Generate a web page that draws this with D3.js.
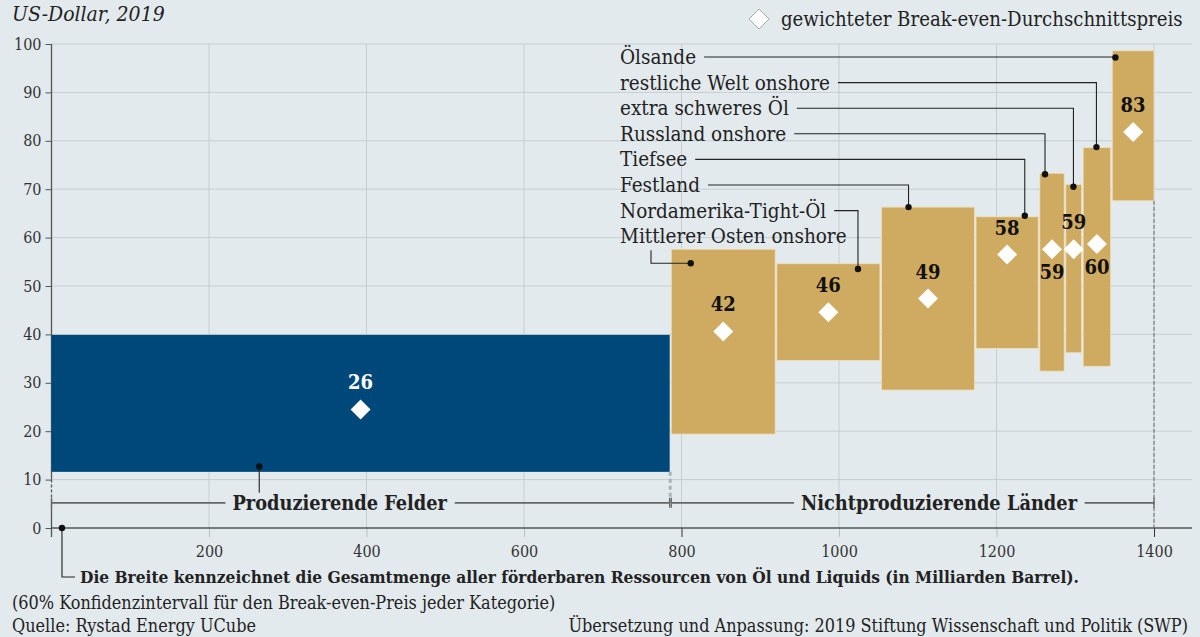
<!DOCTYPE html>
<html lang="de">
<head>
<meta charset="utf-8">
<script src="https://cdn.jsdelivr.net/npm/d3@7"></script>
<style>
  body { margin: 0; background: #e3eaed; }
  svg { display: block; }
  text { font-family: "DejaVu Serif Condensed", "DejaVu Serif", serif; fill: #222; }
  .tick text { font-size: 16px; fill: #333; }
  .num { font-weight: bold; font-size: 20px; text-anchor: middle; }
  .cat { font-size: 20.5px; }
  .foot { font-size: 17.9px; }
</style>
</head>
<body>
<svg id="chart" width="1200" height="637"></svg>
<script>
// categories, left to right along the x axis
var categories = ["Produzierende Felder", "Mittlerer Osten onshore", "Nordamerika-Tight-Öl", "Festland",
  "Tiefsee", "Russland onshore", "extra schweres Öl", "restliche Welt onshore", "Ölsande"];
// resource volume (bn barrel) = bar width
var volumes = [785, 132, 131, 118, 79, 31, 20, 35, 53];
// 60% confidence interval of break-even price (USD)
var lows  = [11.6, 19.4, 34.6, 28.5, 37.1, 32.4, 36.2, 33.4, 67.6];
var highs = [39.9, 57.6, 54.6, 66.3, 64.3, 73.3, 71.0, 78.6, 98.6];
// weighted average break-even (diamond) and its printed label
var avgMarker = [24.5, 40.6, 44.6, 47.4, 56.5, 57.6, 57.6, 58.7, 81.8];
var avgLabels = ["26", "42", "46", "49", "58", "59", "59", "60", "83"];
// where the callout lines point to (data units)
var anchorX = [263.8, 811.7, 1024.1, 1088.3, 1235.9, 1261.6, 1297.7, 1326.9, 1351];
var anchorY = [12.7, 54.7, 53.5, 66.3, 64.5, 73.1, 70.5, 78.7, 97.2];
var labelsBelow = ["Russland onshore", "restliche Welt onshore"];

var groupNames = ["Produzierende Felder", "Nichtproduzierende Länder"];
var groupFrom = [0, 787];
var groupTo = [785, 1400];
var groupLabelX = [366, 1127];

var xTicks = [200, 400, 600, 800, 1000, 1200, 1400];
var yTicks = [0, 10, 20, 30, 40, 50, 60, 70, 80, 90, 100];

var gap = 2;
var starts = [];
var acc = 0;
volumes.forEach(function (v, i) {
  starts.push(acc);
  acc += v + gap;
});

var svg = d3.select('#chart');
var x = d3.scaleLinear().domain([0, 1400]).range([51.5, 1154]);
var y = d3.scaleLinear().domain([0, 100]).range([528, 44]);
var gridRight = 1192;
var bracketY = y(5.2);
var bg = '#e3eaed';

// title + legend
svg.append('text').attr('x', 12).attr('y', 21)
  .style('font-style', 'italic').style('font-size', '21px').text('US-Dollar, 2019');

svg.append('path')
  .attr('d', d3.symbol().type(d3.symbolSquare).size(200))
  .attr('transform', 'translate(759,19) rotate(45)')
  .attr('fill', '#fff').attr('stroke', '#999').attr('stroke-width', 0.8);
svg.append('text').attr('x', 781).attr('y', 26).style('font-size', '20.2px')
  .text('gewichteter Break-even-Durchschnittspreis');

// grid
svg.append('g').selectAll('line').data(yTicks.slice(1)).enter().append('line')
  .attr('x1', x(0)).attr('x2', gridRight)
  .attr('y1', function (d) { return y(d); }).attr('y2', function (d) { return y(d); })
  .attr('stroke', '#c6ced2').attr('stroke-width', 1);
svg.append('g').selectAll('line').data(xTicks).enter().append('line')
  .attr('x1', function (d) { return x(d); }).attr('x2', function (d) { return x(d); })
  .attr('y1', y(100)).attr('y2', y(0))
  .attr('stroke', '#c6ced2').attr('stroke-width', 1);

// y axis
var yAxis = d3.axisLeft(y).tickValues(yTicks).tickSize(6).tickPadding(4);
var gy = svg.append('g').attr('transform', 'translate(' + x(0) + ',0)').call(yAxis);
gy.select('.domain').remove();
gy.selectAll('.tick line').attr('stroke', '#555');
svg.append('line').attr('x1', x(0)).attr('x2', x(0)).attr('y1', y(100)).attr('y2', y(10))
  .attr('stroke', '#555').attr('stroke-width', 1.3);
svg.append('line').attr('x1', x(0)).attr('x2', x(0)).attr('y1', y(10)).attr('y2', bracketY)
  .attr('stroke', '#555').attr('stroke-width', 1.3).attr('stroke-dasharray', '3,2');
svg.append('line').attr('x1', x(0)).attr('x2', x(0)).attr('y1', bracketY).attr('y2', y(0) + 9)
  .attr('stroke', '#555').attr('stroke-width', 1.3);

// x axis
var xAxis = d3.axisBottom(x).tickValues(xTicks).tickSize(9).tickPadding(9).tickFormat(d3.format('d'));
var gx = svg.append('g').attr('transform', 'translate(0,' + y(0) + ')').call(xAxis);
gx.select('.domain').remove();
gx.selectAll('.tick line').attr('stroke', function (d) { return (d === 800 || d === 1400) ? '#333' : '#b8c0c4'; });
svg.append('line').attr('x1', x(0)).attr('x2', gridRight).attr('y1', y(0)).attr('y2', y(0))
  .attr('stroke', '#555').attr('stroke-width', 1.5);

// bars
svg.append('g').selectAll('rect').data(categories).enter().append('rect')
  .attr('x', function (d, i) { return x(starts[i]); })
  .attr('width', function (d, i) { return x(starts[i] + volumes[i]) - x(starts[i]); })
  .attr('y', function (d, i) { return y(highs[i]); })
  .attr('height', function (d, i) { return y(lows[i]) - y(highs[i]); })
  .attr('fill', function (d, i) { return i === 0 ? '#00477a' : '#cfab61'; })
  .attr('stroke', function (d, i) { return i === 0 ? 'none' : '#efe2c0'; })
  .attr('stroke-width', 0.8);

// dashed boundary lines
svg.append('line').attr('x1', x(groupTo[0]) + 0.5).attr('x2', x(groupTo[0]) + 0.5)
  .attr('y1', y(lows[0])).attr('y2', bracketY)
  .attr('stroke', '#a9b2b7').attr('stroke-width', 3).attr('stroke-dasharray', '4,3');
var last = categories.length - 1;
svg.append('line').attr('x1', x(1400)).attr('x2', x(1400))
  .attr('y1', y(lows[last])).attr('y2', y(0))
  .attr('stroke', '#666').attr('stroke-width', 1).attr('stroke-dasharray', '4,2');

// group brackets
groupNames.forEach(function (name, i) {
  var g = svg.append('g');
  g.append('line').attr('x1', x(groupFrom[i])).attr('x2', x(groupTo[i]))
    .attr('y1', bracketY).attr('y2', bracketY).attr('stroke', '#666').attr('stroke-width', 1.6);
  [groupFrom[i], groupTo[i]].forEach(function (v) {
    g.append('line').attr('x1', x(v)).attr('x2', x(v))
      .attr('y1', bracketY - 5).attr('y2', bracketY + 5).attr('stroke', '#666').attr('stroke-width', 1.3);
  });
  var t = g.append('text').attr('x', x(groupLabelX[i])).attr('y', bracketY + 7)
    .attr('text-anchor', 'middle').style('font-size', '19.8px').style('fill', '#222')
    .style('font-weight', 'bold').text(name);
  var bb = t.node().getBBox();
  g.insert('rect', 'text').attr('x', bb.x - 7).attr('y', bracketY - 4)
    .attr('width', bb.width + 14).attr('height', 8).attr('fill', bg);
});

// diamonds
svg.append('g').selectAll('path').data(categories).enter().append('path')
  .attr('d', d3.symbol().type(d3.symbolSquare).size(200))
  .attr('transform', function (d, i) {
    return 'translate(' + x(starts[i] + volumes[i] / 2) + ',' + y(avgMarker[i]) + ') rotate(45)';
  })
  .attr('fill', '#fff');

// average labels
svg.append('g').selectAll('text').data(categories).enter().append('text')
  .attr('class', 'num')
  .attr('x', function (d, i) { return x(starts[i] + volumes[i] / 2); })
  .attr('y', function (d, i) {
    return labelsBelow.indexOf(d) >= 0 ? y(avgMarker[i]) + 30 : y(avgMarker[i]) - 20;
  })
  .style('fill', function (d, i) { return i === 0 ? '#fff' : '#111'; })
  .text(function (d, i) { return avgLabels[i]; });

// callouts for the non-producing categories, listed top to bottom
var callG = svg.append('g');
var rowTop = 57, rowStep = 25.6, labelX = 620;
categories.slice(1).reverse().forEach(function (name, r) {
  var i = categories.indexOf(name);
  var cy = rowTop + r * rowStep;
  var t = callG.append('text').attr('class', 'cat').attr('x', labelX).attr('y', cy + 7).text(name);
  var w = t.node().getComputedTextLength();
  var ax = x(anchorX[i]), ay = y(anchorY[i]);
  var pts;
  if (ay > cy + 15 && ax < labelX + w) {
    // route from under the label
    pts = [[labelX + 31, cy + 14], [labelX + 31, ay], [ax, ay]];
  } else {
    pts = [[labelX + w + 8, cy], [ax, cy], [ax, ay]];
  }
  callG.append('path').attr('d', d3.line()(pts))
    .attr('fill', 'none').attr('stroke', '#222').attr('stroke-width', 1.1);
  callG.append('circle').attr('cx', ax).attr('cy', ay).attr('r', 3.2).attr('fill', '#111');
});

// callout for producing fields
svg.append('line').attr('x1', x(anchorX[0])).attr('x2', x(anchorX[0]))
  .attr('y1', y(anchorY[0])).attr('y2', bracketY - 10).attr('stroke', '#222').attr('stroke-width', 1.1);
svg.append('circle').attr('cx', x(anchorX[0])).attr('cy', y(anchorY[0])).attr('r', 3.2).attr('fill', '#111');

// width note
var noteX = x(13.3);
svg.append('path').attr('d', d3.line()([[noteX, y(0)], [noteX, 577], [noteX + 13, 577]]))
  .attr('fill', 'none').attr('stroke', '#222').attr('stroke-width', 1.1);
svg.append('circle').attr('cx', noteX).attr('cy', y(0)).attr('r', 3.2).attr('fill', '#111');
svg.append('text').attr('x', 80).attr('y', 583).style('font-size', '17.2px').style('font-weight', 'bold')
  .text('Die Breite kennzeichnet die Gesamtmenge aller förderbaren Ressourcen von Öl und Liquids (in Milliarden Barrel).');

// footer
svg.append('text').attr('class', 'foot').attr('x', 12).attr('y', 609)
  .text('(60% Konfidenzintervall für den Break-even-Preis jeder Kategorie)');
svg.append('text').attr('class', 'foot').attr('x', 12).attr('y', 632)
  .text('Quelle: Rystad Energy UCube');
svg.append('text').attr('class', 'foot').attr('x', 1188).attr('y', 632).attr('text-anchor', 'end')
  .text('Übersetzung und Anpassung: 2019 Stiftung Wissenschaft und Politik (SWP)');
</script>
</body>
</html>
